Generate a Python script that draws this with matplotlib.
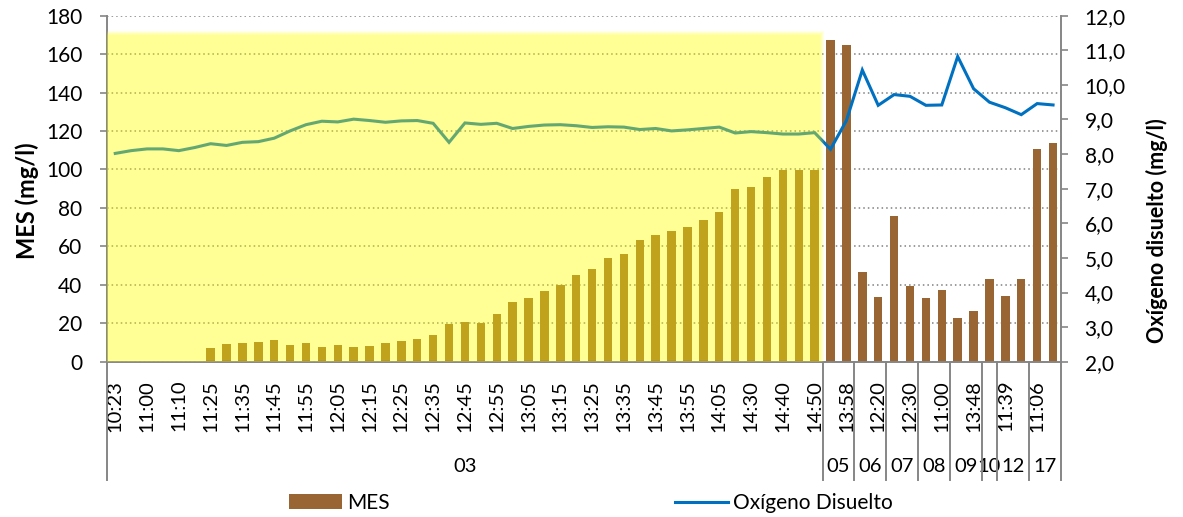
import matplotlib
matplotlib.use("Agg")
import matplotlib.pyplot as plt
import matplotlib.transforms as mtransforms
from matplotlib.patches import Rectangle, Patch
from matplotlib.lines import Line2D

plt.rcParams['font.family'] = ['Lato', 'DejaVu Sans']

# ---------------- data ----------------
time_labels = ['10:23', '', '11:00', '', '11:10', '', '11:25', '', '11:35', '', '11:45', '', '11:55', '',
               '12:05', '', '12:15', '', '12:25', '', '12:35', '', '12:45', '', '12:55', '', '13:05', '',
               '13:15', '', '13:25', '', '13:35', '', '13:45', '', '13:55', '', '14:05', '', '14:30', '',
               '14:40', '', '14:50', '', '13:58', '', '12:20', '', '12:30', '', '11:00', '', '13:48', '',
               '11:39', '', '11:06', '']
day_labels = ['03', '05', '06', '07', '08', '09', '10', '12', '17']
day_sizes = [45, 2, 2, 2, 2, 2, 1, 2, 2]

mes = [0, 0, 0, 0, 0, 0, 7.0, 9.4, 9.9, 10.4, 11.3, 8.5, 9.6, 7.7, 8.5, 7.8, 8.0, 9.7, 10.8, 11.8,
       13.9, 19.5, 20.7, 20.0, 24.9, 31.0, 32.9, 37.0, 40.0, 45.1, 48.0, 53.7, 56.2, 63.5, 65.7, 68.0,
       69.9, 73.9, 77.9, 89.7, 90.8, 96.0, 99.5, 99.5, 99.5, 167.6, 165.0, 46.8, 33.8, 75.8, 39.4,
       33.0, 37.3, 22.6, 26.5, 43.0, 34.3, 42.9, 110.5, 113.6]
oxigeno = [8.02, 8.10, 8.15, 8.15, 8.10, 8.19, 8.30, 8.25, 8.34, 8.36, 8.46, 8.67, 8.85, 8.95, 8.93,
           9.01, 8.97, 8.92, 8.96, 8.97, 8.89, 8.34, 8.90, 8.86, 8.89, 8.74, 8.80, 8.84, 8.85, 8.82,
           8.77, 8.79, 8.78, 8.71, 8.74, 8.67, 8.70, 8.74, 8.78, 8.61, 8.65, 8.62, 8.58, 8.58, 8.62,
           8.14, 8.97, 10.43, 9.41, 9.72, 9.67, 9.41, 9.42, 10.82, 9.89, 9.50, 9.34, 9.14, 9.46, 9.42]
left_ticks = [0, 20, 40, 60, 80, 100, 120, 140, 160, 180]
right_ticks = [2, 3, 4, 5, 6, 7, 8, 9, 10, 11, 12]
highlight_groups = 1      # number of leading day groups highlighted
highlight_top = 171       # MES units

# ---------------- style ----------------
W, H = 1183, 517
BROWN = '#996633'
BLUE = '#0070C0'
GRAY = '#868686'
FS_TICK = 15
FS_XT = 14.5

fig = plt.figure(figsize=(W / 100, H / 100), dpi=100)
ax_l, ax_r, ax_t, ax_b = 107.3, 1061.0, 15.7, 361.7
ax = fig.add_axes([ax_l / W, 1 - ax_b / H, (ax_r - ax_l) / W, (ax_b - ax_t) / H])
ax2 = ax.twinx()

n = len(mes)
x = list(range(n))
ax.bar(x, mes, width=0.53, color=BROWN, zorder=2)
ax.set_xlim(-0.5, n - 0.5)
ax.set_ylim(left_ticks[0], left_ticks[-1])
ax.set_yticks(left_ticks)
ax.set_yticklabels([str(v) for v in left_ticks])
ax.grid(axis='y', color='#808080', linestyle=(0, (1, 2)), linewidth=1.1, zorder=0)
ax.set_axisbelow(True)

ax2.plot(x, oxigeno, color=BLUE, linewidth=2.2, zorder=3, solid_joinstyle='miter')
ax2.set_ylim(right_ticks[0], right_ticks[-1])
ax2.set_yticks(right_ticks)
ax2.set_yticklabels([f"{v:.1f}".replace('.', ',') for v in right_ticks])

for a in (ax, ax2):
    a.spines['top'].set_visible(False)
    for s in ('left', 'right', 'bottom'):
        a.spines[s].set_color(GRAY)
        a.spines[s].set_linewidth(1.4)
ax.spines['right'].set_visible(False)
ax2.spines['left'].set_visible(False)
ax2.spines['bottom'].set_visible(False)

ax.tick_params(axis='y', direction='out', length=5, width=1.2, color=GRAY, pad=13,
               labelsize=FS_TICK, labelcolor='black')
ax2.tick_params(axis='y', direction='out', length=5, width=1.2, color=GRAY, pad=12,
                labelsize=FS_TICK, labelcolor='black')
ax.set_xticks(x)
ax.set_xticklabels(time_labels, rotation=90, fontsize=FS_XT, va='top', ha='center')
ax.tick_params(axis='x', length=0, pad=13)

# multi-level axis: day groups
bt = mtransforms.blended_transform_factory(ax.transData, ax.transAxes)
y_sep = (ax_b - 480) / (ax_b - ax_t)
y_day = (ax_b - 467) / (ax_b - ax_t)
edges = [-0.5]
for s in day_sizes:
    edges.append(edges[-1] + s)
for e in edges:
    ax.plot([e, e], [0, y_sep], transform=bt, color=GRAY, linewidth=1.4, clip_on=False, zorder=5)
for i, lab in enumerate(day_labels):
    ax.text((edges[i] + edges[i + 1]) / 2, y_day, lab, transform=bt, ha='center', va='center',
            fontsize=FS_XT)

# highlight box (semi-transparent yellow with soft edges)
hx1 = edges[highlight_groups] - 0.05
layers = 5
alpha_each = 1 - (1 - 0.4) ** (1 / layers)
inv = ax.transData.inverted()
for k in range(layers):
    off = (k - (layers - 1) / 2) * 1.0  # px
    p_tr = ax.transData.transform((hx1, highlight_top))
    p_bl = ax.transData.transform((-0.5, 0))
    x1d, y1d = inv.transform((p_tr[0] - off, p_tr[1] - off))
    x0d, y0d = inv.transform((p_bl[0], p_bl[1] + off))
    r = Rectangle((x0d, y0d), x1d - x0d, y1d - y0d, transform=ax.transData,
                  facecolor=(1, 1, 0), edgecolor='none', alpha=alpha_each, zorder=10)
    ax2.add_patch(r)

# axis titles
fig.text(27 / W, 1 - 201 / H, 'MES (mg/l)', rotation=90, ha='center', va='center',
         fontsize=17, fontweight='bold')
fig.text(1157 / W, 1 - 231 / H, 'Oxígeno disuelto (mg/l)', rotation=90, ha='center', va='center',
         fontsize=15.5, fontweight='bold')

# legends
leg1 = fig.legend(handles=[Patch(facecolor=BROWN, edgecolor='none', label='MES')],
                  loc='center left', bbox_to_anchor=(289 / W, 1 - 503 / H), frameon=False,
                  borderpad=0, borderaxespad=0, handlelength=2.55, handletextpad=0.25,
                  fontsize=FS_TICK)
leg2 = fig.legend(handles=[Line2D([], [], color=BLUE, linewidth=2.2, label='Oxígeno Disuelto')],
                  loc='center left', bbox_to_anchor=(675 / W, 1 - 503 / H), frameon=False,
                  borderpad=0, borderaxespad=0, handlelength=2.55, handletextpad=0.25,
                  fontsize=FS_TICK)

fig.savefig('out.png', dpi=100)
